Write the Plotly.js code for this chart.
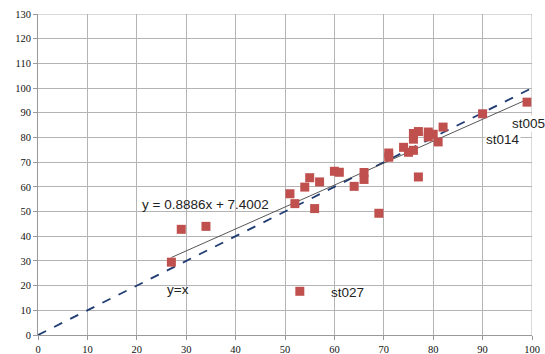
<!DOCTYPE html>
<html><head><meta charset="utf-8">
<script src="https://cdn.plot.ly/plotly-3.0.1.min.js"></script>
<style>html,body{margin:0;padding:0;background:#fff}</style>
</head><body><div id="chart" style="width:545px;height:354px"></div>
<script>
const xVals = [27, 29, 34, 51, 52, 54, 55, 56, 57, 60, 61, 64, 66, 66, 69, 71, 71, 74, 75, 76, 76, 76, 77, 77, 79, 79, 80, 81, 82, 90, 99, 53];
const yVals = [29.5, 42.8, 44.0, 57.2, 53.2, 59.9, 63.7, 51.2, 62.0, 66.3, 65.9, 60.2, 65.8, 63.0, 49.3, 73.7, 72.0, 76.0, 74.0, 74.8, 81.6, 79.3, 82.4, 64.0, 82.2, 80.2, 81.3, 78.2, 84.2, 89.6, 94.3, 17.7];
const slope = 0.8886, intercept = 7.4002;
const fitX = [27, 99];
const fitY = fitX.map(x => slope * x + intercept);
const identX = [0, 100];
const identY = [0, 100];
const xTicks = [0,10,20,30,40,50,60,70,80,90,100];
const yTicks = [0,10,20,30,40,50,60,70,80,90,100,110,120,130];
const labels = [
  {text: 'y = 0.8886x + 7.4002', x: 34, y: 53},
  {text: 'y=x', x: 28.3, y: 18.6},
  {text: 'st027', x: 62.6, y: 17.4},
  {text: 'st014', x: 94.2, y: 79.2, bg: true},
  {text: 'st005', x: 99.2, y: 85.7, bg: true}
];
const traces = [
  {x: identX, y: identY, mode: 'lines', line: {color: '#1F3B73', width: 1.8, dash: 'dash'}, hoverinfo: 'skip'},
  {x: fitX, y: fitY, mode: 'lines', line: {color: '#444444', width: 0.9}, hoverinfo: 'skip'},
  {x: xVals, y: yVals, mode: 'markers', marker: {symbol: 'square', size: 9, color: '#C0504D', line: {width: 0}}}
];
const layout = {
  width: 545, height: 354,
  margin: {l: 38, r: 13, t: 14, b: 19},
  paper_bgcolor: '#fff', plot_bgcolor: '#fff',
  showlegend: false,
  font: {family: 'Liberation Serif', size: 10.5, color: '#111'},
  xaxis: {range: [0, 100], tickvals: xTicks, ticktext: xTicks.map(String), showgrid: true, gridcolor: '#b4b4b4', gridwidth: 1,
          zeroline: false, showline: true, linecolor: '#999', ticks: 'outside', ticklen: 4, tickcolor: '#999', fixedrange: true},
  yaxis: {range: [0, 130], tickvals: yTicks, ticktext: yTicks.map(String), showgrid: true, gridcolor: '#b4b4b4', gridwidth: 1,
          zeroline: false, showline: true, linecolor: '#999', ticks: 'outside', ticklen: 4, tickcolor: '#999', fixedrange: true},
  annotations: labels.map(l => ({text: l.text, x: l.x, y: l.y, xref: 'x', yref: 'y', showarrow: false,
     font: {family: 'Liberation Sans', size: 13.5, color: '#222'}, bgcolor: l.bg ? '#ffffff' : 'rgba(0,0,0,0)', borderpad: 0})),
  shapes: [{type: 'line', xref: 'x', yref: 'y', x0: 100, x1: 100, y0: 0, y1: 130, line: {color: '#b4b4b4', width: 1}},
           {type: 'line', xref: 'x', yref: 'y', x0: 0, x1: 100, y0: 130, y1: 130, line: {color: '#b4b4b4', width: 1}}]
};
Plotly.newPlot('chart', traces, layout, {displayModeBar: false, staticPlot: true});
</script></body></html>
